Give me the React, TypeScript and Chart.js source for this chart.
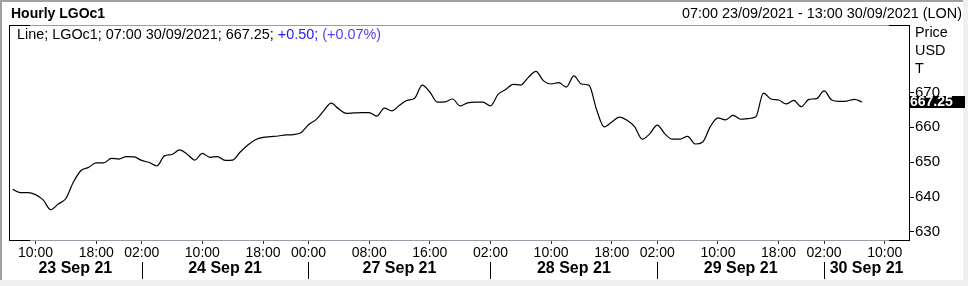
import React, { useEffect, useRef } from 'react';
import { Chart, registerables } from 'chart.js';

Chart.register(...registerables);

// ---- data ----
const prices: number[] = [
  642.2, 641.3, 641.3, 640.7, 639.2, 636.4, 638.0, 639.6, 644.3, 647.6,
  648.5, 649.8, 649.8, 651.1, 650.9, 651.6, 651.5, 650.5, 649.9, 648.9,
  651.8, 652.2, 653.5, 652.3, 650.6, 652.5, 651.4, 651.6, 650.5, 650.6,
  652.9, 654.9, 656.4, 657.1, 657.3, 657.5, 657.8, 657.9, 658.4, 660.7,
  662.2, 664.7, 666.9, 665.2, 664.0, 664.1, 664.2, 664.2, 663.2, 665.5,
  664.7, 666.3, 667.7, 668.3, 672.1, 670.1, 667.2, 667.3, 668.1, 666.1,
  667.0, 667.2, 667.2, 666.1, 669.4, 670.8, 672.3, 672.1, 674.3, 676.0,
  673.3, 672.4, 672.8, 671.5, 674.7, 672.4, 672.0, 665.0, 660.1, 661.5,
  662.9, 662.0, 660.2, 656.6, 658.1, 660.6, 658.1, 656.6, 656.6, 657.4,
  655.2, 655.8, 660.2, 662.7, 662.1, 663.4, 662.3, 662.5, 663.0, 669.8,
  668.1, 667.8, 666.7, 667.7, 665.9, 668.0, 668.2, 670.4, 667.8, 667.4,
  667.5, 668.0, 667.25,
];

const xTickIndex: number[] = [3, 11, 17, 25, 33, 39, 47, 55, 63, 71, 79, 85, 93, 101, 107, 115];
const xTickLabels: string[] = [
  '10:00', '18:00', '02:00', '10:00', '18:00', '00:00', '08:00', '16:00',
  '02:00', '10:00', '18:00', '02:00', '10:00', '18:00', '02:00', '10:00',
];
const dayStartIndex: number[] = [17, 39, 63, 85, 107];
const dayLabels: string[] = ['23 Sep 21', '24 Sep 21', '27 Sep 21', '28 Sep 21', '29 Sep 21', '30 Sep 21'];
const yTicks: number[] = [630, 640, 650, 660, 670];

const X_MIN = -0.5;
const X_MAX = 118.2;
const Y_MIN = 627.7;
const Y_MAX = 689.3;

const titleText = 'Hourly LGOc1';
const rangeText = '07:00 23/09/2021 - 13:00 30/09/2021 (LON)';
const legendParts: [string, string][] = [
  ['Line; LGOc1; 07:00 30/09/2021; 667.25; ', '#000000'],
  ['+0.50; ', '#1c1cf0'],
  ['(+0.07%)', '#5a3cf0'],
];
const unitLines: string[] = ['Price', 'USD', 'T'];
const lastValueLabel = '667.25';

const FONT = "'Liberation Sans', Arial, sans-serif";

const panelPlugin = {
  id: 'panelPlugin',
  beforeDraw(chart: any) {
    const ctx = chart.ctx as CanvasRenderingContext2D;
    const W = chart.width;
    const H = chart.height;
    ctx.save();
    ctx.fillStyle = '#f0f0f0';
    ctx.fillRect(0, 0, W, H);
    ctx.fillStyle = '#ffffff';
    ctx.fillRect(0, 0, 963, 280);
    ctx.fillStyle = '#a0a0a0';
    ctx.fillRect(0, 0, 963, 2);
    ctx.fillRect(0, 0, 2, 280);
    ctx.restore();
  },
  afterDraw(chart: any) {
    const ctx = chart.ctx as CanvasRenderingContext2D;
    const area = chart.chartArea;
    const xs = chart.scales.x;
    const ys = chart.scales.y;
    const L = area.left, R = area.right, T = area.top, B = area.bottom;
    ctx.save();

    // frame
    ctx.lineWidth = 1;
    ctx.strokeStyle = '#9a9aa8';
    ctx.beginPath();
    ctx.moveTo(L, T + 0.5); ctx.lineTo(R, T + 0.5);
    ctx.moveTo(L, B + 0.5); ctx.lineTo(R, B + 0.5);
    ctx.stroke();
    ctx.strokeStyle = '#000000';
    ctx.beginPath();
    ctx.moveTo(L + 0.5, T); ctx.lineTo(L + 0.5, B + 1);
    ctx.moveTo(R + 0.5, T); ctx.lineTo(R + 0.5, B + 1);
    ctx.moveTo(L, T + 0.5); ctx.lineTo(L + 21, T + 0.5);
    ctx.moveTo(L, B + 0.5); ctx.lineTo(L + 21, B + 0.5);
    ctx.moveTo(R - 20, T + 0.5); ctx.lineTo(R + 1, T + 0.5);
    ctx.moveTo(R - 20, B + 0.5); ctx.lineTo(R + 1, B + 0.5);
    ctx.stroke();

    // header
    ctx.textBaseline = 'middle';
    ctx.fillStyle = '#000000';
    ctx.font = `bold 14px ${FONT}`;
    ctx.textAlign = 'left';
    ctx.fillText(titleText, 11, 14);
    ctx.font = `14.4px ${FONT}`;
    ctx.textAlign = 'right';
    ctx.fillText(rangeText, 962, 14);

    // legend
    ctx.textAlign = 'left';
    let lx = 17;
    for (const [txt, col] of legendParts) {
      ctx.fillStyle = col;
      ctx.fillText(txt, lx, 35);
      lx += ctx.measureText(txt).width;
    }

    // units
    ctx.fillStyle = '#000000';
    ctx.font = `14.4px ${FONT}`;
    unitLines.forEach((u, i) => ctx.fillText(u, 915, 33 + i * 18));

    // last value box
    const lastVal = prices[prices.length - 1];
    const vy = ys.getPixelForValue(lastVal);
    ctx.fillStyle = '#000000';
    ctx.fillRect(R, Math.round(vy) - 6, 56, 12);
    ctx.fillStyle = '#ffffff';
    ctx.font = `bold 14px ${FONT}`;
    ctx.fillText(lastValueLabel, R + 1, Math.round(vy) + 0.5);

    // day separators and labels
    const bounds = [L, ...dayStartIndex.map((i) => xs.getPixelForValue(i)), R];
    ctx.strokeStyle = '#000000';
    ctx.beginPath();
    dayStartIndex.forEach((i) => {
      const px = Math.round(xs.getPixelForValue(i)) + 0.5;
      ctx.moveTo(px, 262);
      ctx.lineTo(px, 279);
    });
    ctx.stroke();
    ctx.fillStyle = '#000000';
    ctx.font = `bold 16px ${FONT}`;
    ctx.textAlign = 'center';
    dayLabels.forEach((d, i) => {
      const cx = (bounds[i] + bounds[i + 1]) / 2;
      ctx.fillText(d, cx, 269);
    });
    ctx.restore();
  },
};

export default function App() {
  const ref = useRef<HTMLCanvasElement | null>(null);
  useEffect(() => {
    document.body.style.margin = '0';
    const canvas = ref.current;
    if (!canvas) return;
    const chart = new Chart(canvas, {
      type: 'line',
      data: {
        datasets: [
          {
            data: prices.map((v, i) => ({ x: i, y: v })),
            borderColor: '#000000',
            borderWidth: 1.2,
            pointRadius: 0,
            fill: false,
            cubicInterpolationMode: 'monotone',
          },
        ],
      },
      options: {
        animation: false,
        responsive: false,
        devicePixelRatio: 1,
        layout: { padding: { left: 9, top: 25, right: 0, bottom: 0 } },
        plugins: { legend: { display: false }, tooltip: { enabled: false }, title: { display: false } },
        scales: {
          x: {
            type: 'linear',
            min: X_MIN,
            max: X_MAX,
            afterBuildTicks: (scale: any) => {
              scale.ticks = xTickIndex.map((v) => ({ value: v }));
            },
            afterFit: (scale: any) => {
              scale.height = 46;
            },
            grid: { drawOnChartArea: false, drawTicks: true, tickLength: 4, color: '#333333' },
            border: { display: false },
            ticks: {
              autoSkip: false,
              maxRotation: 0,
              minRotation: 0,
              padding: 1,
              color: '#000000',
              font: { family: FONT, size: 14 },
              callback: (_v: any, idx: number) => xTickLabels[idx],
            },
          },
          y: {
            type: 'linear',
            position: 'right',
            min: Y_MIN,
            max: Y_MAX,
            afterBuildTicks: (scale: any) => {
              scale.ticks = yTicks.map((v) => ({ value: v }));
            },
            afterFit: (scale: any) => {
              scale.width = 59;
            },
            grid: { drawOnChartArea: false, drawTicks: true, tickLength: 5, color: '#000000' },
            border: { display: false },
            ticks: {
              padding: 1,
              color: '#000000',
              font: { family: FONT, size: 15 },
              callback: (v: any) => String(v),
            },
          },
        },
      },
      plugins: [panelPlugin],
    } as any);
    return () => chart.destroy();
  }, []);
  return <canvas ref={ref} width={968} height={286} style={{ display: 'block', width: 968, height: 286 }} />;
}
